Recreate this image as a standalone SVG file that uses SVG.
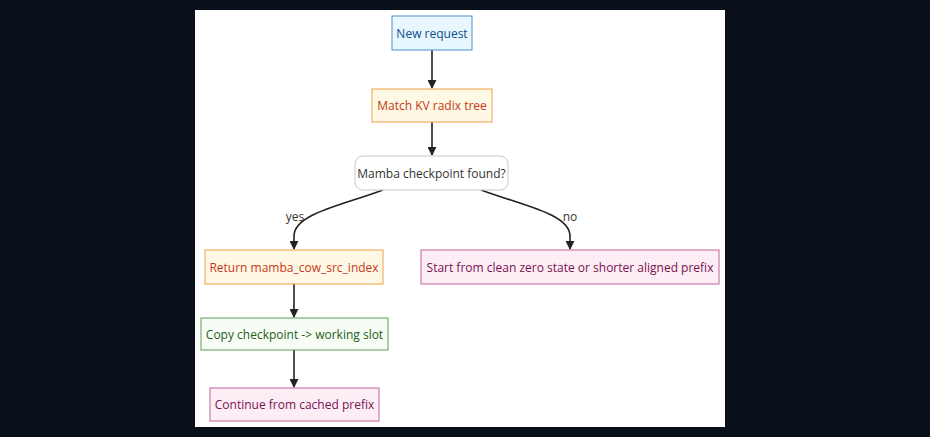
<svg xmlns="http://www.w3.org/2000/svg" width="930" height="437" viewBox="0 0 930 437">
<style>
text{font-family:"Open Sans","Liberation Sans",sans-serif;font-size:12px;text-anchor:middle;dominant-baseline:central}
.blue rect{fill:#e8f6fd;stroke:#4f90c8;stroke-width:1}
.blue text{fill:#0d4e8f}
.orange rect{fill:#fff8e4;stroke:#f0a04b;stroke-width:1}
.orange text{fill:#c4381a}
.pink rect{fill:#fdeef6;stroke:#c0609a;stroke-width:1}
.pink text{fill:#7a1050}
.green rect{fill:#f7fcf5;stroke:#5a9e5a;stroke-width:1}
.green text{fill:#1e5e20}
.gray rect{fill:#ffffff;stroke:#c8c8c8;stroke-width:1}
.gray text{fill:#333333}
.edge{fill:none;stroke:#222;stroke-width:1.6}
.lbl{fill:#333}
</style>
<defs>
<marker id="arr" viewBox="0 0 10 10" refX="9" refY="5" markerWidth="9" markerHeight="9" markerUnits="userSpaceOnUse" orient="auto">
<path d="M0,0 L10,5 L0,10 z" fill="#222"/>
</marker>
</defs>
<rect x="0" y="0" width="930" height="437" fill="#0a0f1c"/>
<rect x="195" y="10" width="530" height="417" fill="#ffffff"/>
<g id="connectors">
<path class="edge" d="M432,50 L432,88" marker-end="url(#arr)"/>
<path class="edge" d="M432,122 L432,155" marker-end="url(#arr)"/>
<path class="edge" d="M383,190 C340,206 294,214 294,236 L294,249" marker-end="url(#arr)"/>
<path class="edge" d="M481,190 C524,206 570,214 570,236 L570,249" marker-end="url(#arr)"/>
<path class="edge" d="M294,284 L294,317" marker-end="url(#arr)"/>
<path class="edge" d="M294,350 L294,387" marker-end="url(#arr)"/>
<text class="lbl" x="295" y="216">yes</text>
<text class="lbl" x="570" y="216">no</text>
</g>
<g id="new-request" class="blue"><rect x="392" y="16" width="80" height="34"/><text x="432" y="33">New request</text></g>
<g id="match-kv" class="orange"><rect x="372" y="89" width="120" height="33"/><text x="432" y="105.5">Match KV radix tree</text></g>
<g id="mamba-found" class="gray"><rect x="355" y="156" width="153" height="34" rx="8" ry="8"/><text x="431.5" y="173">Mamba checkpoint found?</text></g>
<g id="return-idx" class="orange"><rect x="205" y="250" width="178" height="34"/><text x="294" y="267">Return mamba_cow_src_index</text></g>
<g id="start-clean" class="pink"><rect x="421" y="250" width="298" height="34"/><text x="570" y="267">Start from clean zero state or shorter aligned prefix</text></g>
<g id="copy-checkpoint" class="green"><rect x="201" y="318" width="187" height="32"/><text x="294.5" y="334">Copy checkpoint -&gt; working slot</text></g>
<g id="continue" class="pink"><rect x="210" y="388" width="169" height="33"/><text x="294.5" y="404.5">Continue from cached prefix</text></g>
</svg>
